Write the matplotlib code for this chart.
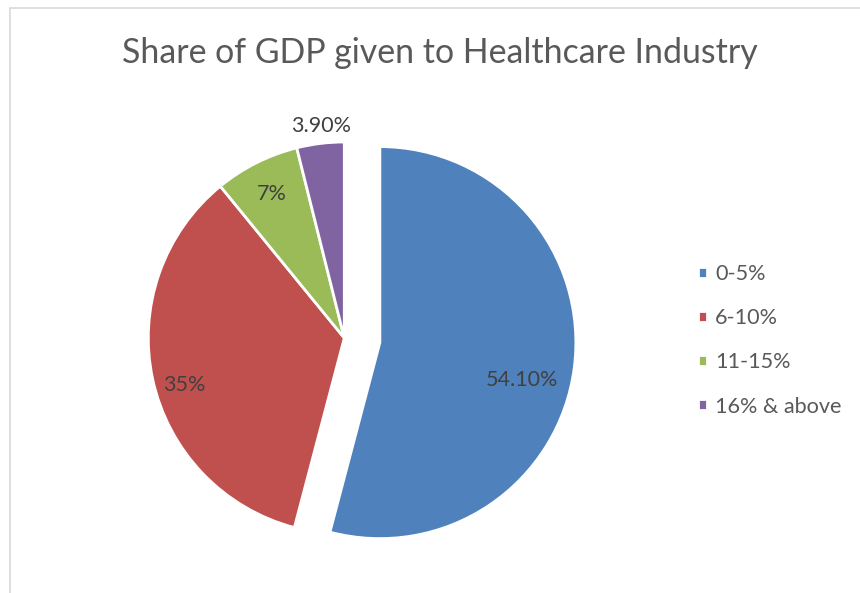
import matplotlib
matplotlib.use("Agg")
import numpy as np
import matplotlib.pyplot as plt
from matplotlib.patches import Rectangle

categories = ["0-5%", "6-10%", "11-15%", "16% & above"]
shares = [54.10, 35, 7, 3.90]
share_labels = ["54.10%", "35%", "7%", "3.90%"]
colors = ["#4F81BD", "#C0504D", "#9BBB59", "#8064A2"]
explode_frac = [0.183, 0, 0, 0]

plt.rcParams["font.family"] = ["Lato", "DejaVu Sans"]

W, H = 860, 593
fig = plt.figure(figsize=(W / 100, H / 100), dpi=100)
fig.patch.set_facecolor("white")

# axes spans the whole figure so data units are pixels (y up)
ax = fig.add_axes([0, 0, 1, 1])
cx, cy, r = 344.3, H - 338, 196

# pie's explode is in data units, so scale the fractions by the radius
wedges, _ = ax.pie(shares, colors=colors,
                   explode=[e * r for e in explode_frac], startangle=90,
                   counterclock=False, center=(cx, cy), radius=r,
                   wedgeprops=dict(edgecolor="white", linewidth=2))
ax.set_xlim(0, W)
ax.set_ylim(0, H)
ax.set_aspect("equal")
ax.axis("off")

# data labels: distance (in radii) and angular nudge from each wedge bisector
label_pos = [(0.75, -7.5), (0.85, 4.0), (0.82, 0.0), (1.09, -0.8)]
for w, txt, (d, nudge) in zip(wedges, share_labels, label_pos):
    mid = np.deg2rad((w.theta1 + w.theta2) / 2 + nudge)
    x0, y0 = w.center
    ax.text(x0 + d * r * np.cos(mid), y0 + d * r * np.sin(mid), txt,
            ha="center", va="center", fontsize=15.5, color="#404040")

ax.text(440, H - 53, "Share of GDP given to Healthcare Industry",
        ha="center", va="center", fontsize=24.4, color="#595959")

leg = ax.legend(wedges, categories, loc="upper left",
                bbox_to_anchor=(687 / W, (H - 253) / H), frameon=False,
                fontsize=15.6, handlelength=0.4, handleheight=0.4,
                handletextpad=0.4, labelspacing=1.12, borderpad=0)
for t in leg.get_texts():
    t.set_color("#595959")

# chart area border
fig.patches.append(Rectangle((10 / W, -0.1), 1.2, 1 - 8 / H + 0.1,
                             transform=fig.transFigure, fill=False,
                             edgecolor="#D9D9D9", linewidth=1.2))

fig.savefig("out.png", dpi=100)
